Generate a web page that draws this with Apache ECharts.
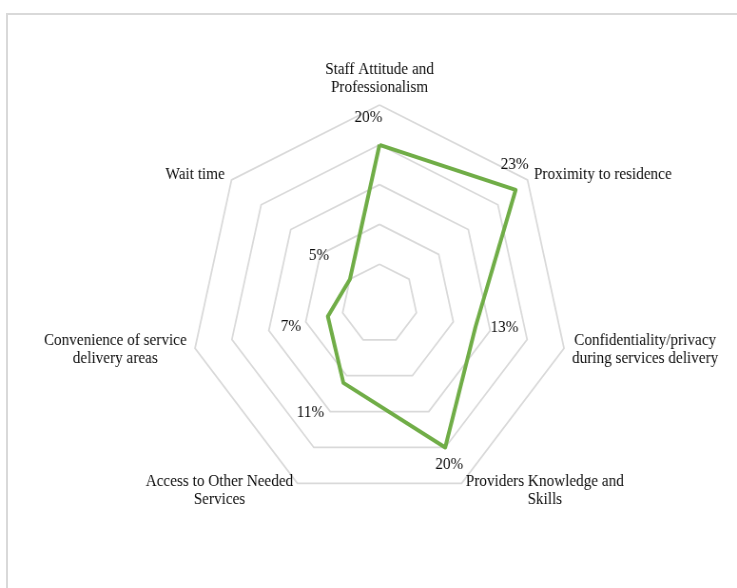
<!DOCTYPE html>
<html>
<head>
<meta charset="utf-8">
<script src="https://cdn.jsdelivr.net/npm/echarts@6/dist/echarts.min.js"></script>
<style>
  html, body { margin: 0; padding: 0; background: #fff; overflow: hidden; }
  #wrap { position: relative; width: 737px; height: 588px; overflow: hidden; }
  #frame { position: absolute; left: 6px; top: 13px; width: 760px; height: 600px;
           border-left: 2px solid #d9d9d9; border-top: 2px solid #d9d9d9; box-sizing: border-box; }
  #chart { position: absolute; left: 0; top: 0; width: 775px; height: 588px;
           transform: scaleX(0.951); transform-origin: 0 0; }
</style>
</head>
<body>
<div id="wrap"><div id="frame"></div><div id="chart"></div></div>
<script>
// Categories in clockwise order starting at the top
const categories = [
  'Staff Attitude and\nProfessionalism',
  'Proximity to residence',
  'Confidentiality/privacy\nduring services delivery',
  'Providers Knowledge and\nSkills',
  'Access to Other Needed\nServices',
  'Convenience of service\ndelivery areas',
  'Wait time'
];
// Percent values, same order
const values = [20, 23, 13, 20, 11, 7, 5];
const axisMax = 25;
const ringCount = 5;

// label nudges (screen px, same order as categories)
const labelNudge = [[-11, -27], [-1, -25], [29, 1], [4, 17], [-33, 30], [-37, 10], [-31, -23]];

const SX = 0.951;
const FONT = '"Liberation Serif", "Times New Roman", serif';
const FS = 16;

// ECharts radar runs counter-clockwise; map clockwise order to it
const order = [0];
for (let i = categories.length - 1; i >= 1; i--) order.push(i);
const ecNames = order.map(i => categories[i]);
const ecValues = order.map(i => values[i]);
const ecNudge = order.map(i => labelNudge[i]);

const ctx = document.createElement('canvas').getContext('2d');
ctx.font = FS + 'px ' + FONT;
function blockWidth(name) {
  return Math.ceil(Math.max.apply(null, name.split('\n').map(s => ctx.measureText(s).width))) + 1;
}

const nameRich = {};
ecNames.forEach((n, k) => {
  nameRich['n' + k] = { width: blockWidth(n), align: 'center', fontFamily: FONT, fontSize: FS,
                        lineHeight: 18, color: '#0d0d0d' };
});

const valRich = {};
ecNudge.forEach((d, k) => {
  const dx = d[0] / SX, dy = d[1];
  valRich['v' + k] = {
    fontFamily: FONT, fontSize: FS, color: '#0d0d0d',
    padding: [Math.max(2 * dy, 0), Math.max(-2 * dx, 0), Math.max(-2 * dy, 0), Math.max(2 * dx, 0)]
  };
});

const chart = echarts.init(document.getElementById('chart'), null, { renderer: 'canvas' });
chart.setOption({
  animation: false,
  backgroundColor: 'transparent',
  radar: {
    center: [379.5 / SX, 304],
    radius: 199,
    startAngle: 90,
    shape: 'polygon',
    splitNumber: ringCount,
    nameGap: 8,
    indicator: ecNames.map(n => ({ name: n, min: 0, max: axisMax })),
    axisName: {
      color: '#0d0d0d',
      fontFamily: FONT,
      fontSize: FS,
      lineHeight: 18,
      formatter: function (name) {
        const k = ecNames.indexOf(name);
        return name.split('\n').map(s => '{n' + k + '|' + s + '}').join('\n');
      },
      rich: nameRich
    },
    splitLine: { lineStyle: { color: '#d9d9d9', width: 1.75 } },
    splitArea: { show: false },
    axisLine: { show: false },
    axisTick: { show: false },
    axisLabel: { show: false }
  },
  series: [{
    type: 'radar',
    symbol: 'circle',
    symbolSize: 1,
    lineStyle: { color: '#70ad47', width: 4 },
    itemStyle: { color: '#70ad47' },
    label: {
      show: true,
      position: 'inside',
      fontFamily: FONT,
      fontSize: FS,
      color: '#0d0d0d',
      formatter: function (p) {
        return '{v' + p.dimensionIndex + '|' + p.value + '%}';
      },
      rich: valRich
    },
    data: [{ value: ecValues, name: 'Share' }]
  }]
});
</script>
</body>
</html>
